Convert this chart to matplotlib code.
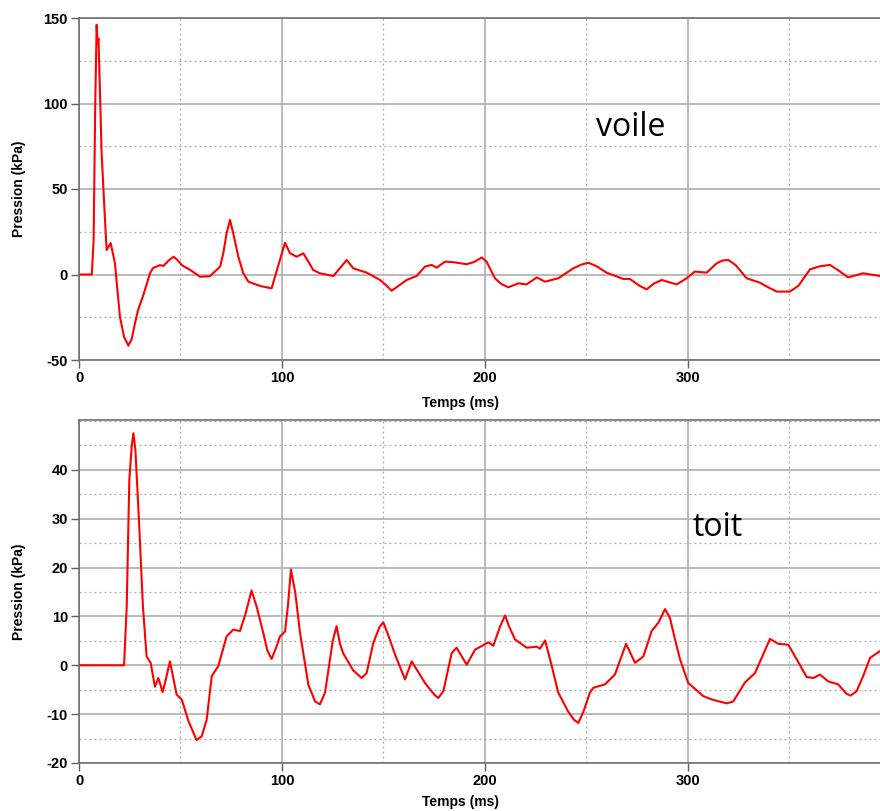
import matplotlib
matplotlib.use("Agg")
import matplotlib.pyplot as plt
from matplotlib.ticker import MultipleLocator

plt.rcParams["font.family"] = ["Liberation Sans", "DejaVu Sans"]
plt.rcParams["axes.unicode_minus"] = False

# voile (pression sur le voile)
t_voile = [0, 6.3, 7.2, 8.0, 8.7, 9.1, 9.6, 10.6, 11.1, 12.3, 13.6, 15.6, 17.7, 18.6,
           20.2, 22.2, 24.3, 25.9, 27.6, 29.1, 31.7, 35.0, 36.5, 39.9, 41.6, 44.0,
           46.6, 48.5, 50.6, 55.0, 59.6, 64.5, 69.5, 71.1, 72.7, 74.4, 76.0, 78.5,
           80.9, 83.4, 89.2, 94.9, 98.0, 101.5, 103.9, 107.2, 108.9, 110.5, 113.0,
           115.4, 118.7, 125.3, 131.9, 135.1, 141.7, 148.3, 151.5, 154.0, 157.0,
           161.4, 166.3, 170.4, 173.7, 176.2, 180.3, 184.4, 191.0, 195.0, 198.4,
           200.8, 204.9, 208.0, 211.5, 216.4, 220.5, 225.5, 229.6, 236.1, 243.5,
           247.5, 250.9, 255.0, 259.9, 268.1, 271.4, 276.0, 279.6, 283.0, 287.0,
           294.4, 299.0, 303.4, 309.2, 314.1, 317.0, 319.9, 323.5, 328.9, 335.5,
           339.5, 343.7, 350.2, 354.5, 360.1, 365.0, 369.9, 374.0, 378.9, 386.3,
           394.6]
p_voile = [0, 0, 20, 100, 146, 135, 138, 95, 72, 43.6, 14.3, 18.4, 6.7, -5,
           -25, -36.5, -41.6, -38, -28.5, -20.8, -12, 0.8, 3.8, 5.5, 5.0, 8.0,
           10.4, 8.5, 5.5, 2.5, -1.3, -1.0, 4.6, 12.5, 24, 31.9, 24, 10.4,
           0.8, -4.2, -6.7, -8.1, 4.6, 18.6, 12.5, 10.4, 11.4, 12.4, 7.5,
           2.6, 0.7, -0.9, 8.5, 3.6, 1.1, -3.2, -6.5, -9.5, -7.0,
           -3.2, -0.9, 4.6, 5.6, 4.0, 7.5, 7.2, 6.0, 7.5, 10.0,
           7.5, -2.2, -5.5, -7.5, -5.2, -5.8, -1.7, -4.2, -2.2, 3.6,
           5.8, 6.9, 4.8, 1.1, -2.6, -2.6, -6.5, -8.7, -5.5, -3.2,
           -5.8, -2.5, 1.7, 1.1, 6.5, 8.2, 8.5, 5.5, -2.2, -4.8,
           -7.5, -10.0, -10.0, -6.5, 3.0, 4.8, 5.6, 2.5, -1.7, 0.7,
           -0.9]

# toit (pression sur le toit)
t_toit = [0, 22.2, 23.5, 24.8, 26.0, 26.8, 27.8, 29.5, 31.5, 33.3, 35.3, 37.4,
          39.1, 41.2, 43.0, 44.8, 48.1, 50.6, 54.0, 57.9, 60.5, 62.9, 65.4, 68.6,
          72.7, 76.0, 79.3, 82.0, 85.0, 87.5, 90.8, 92.8, 94.9, 97.0, 99.0, 101.5,
          103.0, 104.4, 106.5, 108.9, 113.0, 116.3, 118.7, 121.2, 125.0, 126.9,
          128.5, 130.1, 135.0, 139.2, 141.7, 145.0, 148.0, 149.9, 152.5, 155.7,
          160.6, 163.9, 170.4, 175.0, 177.0, 179.5, 183.6, 186.0, 191.0, 195.1,
          201.7, 204.1, 207.5, 209.9, 211.8, 214.8, 220.5, 225.5, 227.1, 229.6,
          232.5, 236.1, 241.0, 244.0, 246.0, 248.5, 251.7, 253.4, 259.1, 264.0,
          269.5, 273.9, 278.0, 282.1, 285.4, 288.7, 291.1, 293.5, 296.1, 300.1,
          307.5, 311.7, 319.1, 322.3, 328.1, 333.0, 336.3, 340.4, 344.5, 349.4,
          353.6, 358.5, 361.7, 365.0, 369.1, 374.0, 378.0, 380.1, 383.1, 386.5,
          389.7, 394.6]
p_toit = [0, 0, 12, 38, 45, 47.5, 44, 30, 12, 1.8, 0.5, -4.4,
          -2.6, -5.5, -2.5, 0.8, -6.0, -7.0, -11.5, -15.3, -14.5, -11.1, -2.2, -0.2,
          5.9, 7.3, 7.0, 10.5, 15.3, 12.0, 6.6, 3.0, 1.3, 3.5, 5.9, 6.9,
          12.5, 19.6, 15.0, 6.6, -4.0, -7.4, -8.0, -5.6, 5.0, 8.0,
          4.5, 2.5, -1.0, -2.6, -1.6, 4.6, 7.8, 8.8, 6.0, 2.2,
          -2.9, 0.8, -3.6, -6.0, -6.7, -5.3, 2.5, 3.6, 0.1, 3.2,
          4.7, 4.0, 8.0, 10.2, 8.0, 5.3, 3.6, 3.8, 3.4, 5.1,
          0.5, -5.6, -9.5, -11.2, -11.8, -9.5, -5.6, -4.6, -3.9, -1.9,
          4.4, 0.5, 1.8, 7.0, 8.7, 11.5, 9.7, 5.5, 1.2, -3.6,
          -6.3, -7.0, -7.8, -7.4, -3.5, -1.6, 1.5, 5.4, 4.4, 4.2,
          1.2, -2.4, -2.6, -1.9, -3.3, -3.9, -5.8, -6.2, -5.3, -2.0,
          1.5, 2.9]

fig = plt.figure(figsize=(8.8, 8.11), dpi=100)
ax1 = fig.add_axes([79 / 880, 1 - 360 / 811, 801 / 880, 342 / 811])
ax2 = fig.add_axes([79 / 880, 1 - 763 / 811, 801 / 880, 343 / 811])


def style(ax, ymin, ymax, ymaj, ymin_step, xlab_y):
    ax.set_xlim(0, 394.6)
    ax.set_ylim(ymin, ymax)
    ax.xaxis.set_major_locator(MultipleLocator(100))
    ax.xaxis.set_minor_locator(MultipleLocator(50))
    ax.yaxis.set_major_locator(MultipleLocator(ymaj))
    ax.yaxis.set_minor_locator(MultipleLocator(ymin_step))
    ax.grid(which="major", color="#b4b4b4", linewidth=1.3, linestyle="-")
    ax.grid(which="minor", color="#a8a8a8", linewidth=0.9, linestyle=(0, (1.5, 2.5)))
    ax.set_axisbelow(True)
    ax.tick_params(which="major", direction="out", length=6, width=1,
                   color="#606060", labelsize=10.5, pad=2)
    ax.tick_params(which="minor", length=0)
    for s in ("left", "bottom", "top"):
        ax.spines[s].set_color("#707070")
        ax.spines[s].set_linewidth(1.2)
    ax.spines["right"].set_visible(False)
    ax.set_xlabel("Temps (ms)", fontsize=10, fontweight="bold")
    ax.set_ylabel("Pression (kPa)", fontsize=10, fontweight="bold")
    ax.xaxis.label.set_va("center")
    ax.yaxis.label.set_va("center")
    ax.xaxis.set_label_coords(381 / 801, xlab_y)
    ax.yaxis.set_label_coords(-60 / 801, 0.5)


ax1.plot(t_voile, p_voile, color="#ff0000", linewidth=1.5)
style(ax1, -50, 150, 50, 25, -43 / 342)

ax2.plot(t_toit, p_toit, color="#ff0000", linewidth=1.5)
style(ax2, -20, 50.2, 10, 5, -39 / 343)
ax2.set_yticks([-20, -10, 0, 10, 20, 30, 40])

for ax in (ax1, ax2):
    for lab in ax.get_xticklabels() + ax.get_yticklabels():
        lab.set_fontweight("bold")

# étiquettes placées en pixels
fig.text(631 / 880, 1 - 127 / 811, "voile", fontsize=23, family="Open Sans",
         ha="center", va="center")
fig.text(718 / 880, 1 - 528 / 811, "toit", fontsize=23, family="Open Sans",
         ha="center", va="center")

fig.savefig("out.png", dpi=100)
